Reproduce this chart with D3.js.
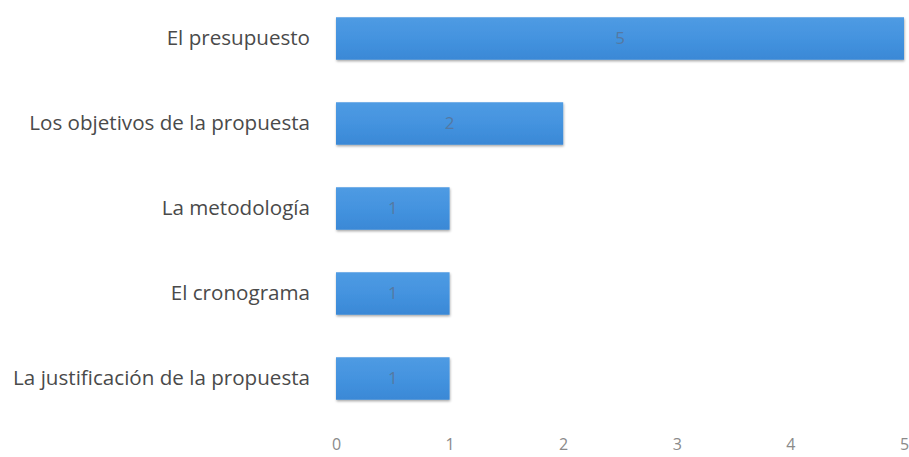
<!DOCTYPE html>
<html>
<head>
<meta charset="utf-8">
<script src="https://cdn.jsdelivr.net/npm/d3@7"></script>
<style>
  html, body { margin: 0; padding: 0; background: #ffffff; }
  svg { display: block; }
</style>
</head>
<body>
<svg id="chart" width="909" height="457"></svg>
<script>
// Categories (top to bottom) and their counts
const categories = [
  "El presupuesto",
  "Los objetivos de la propuesta",
  "La metodología ",
  "El cronograma",
  "La justificación de la propuesta"
];
const values = [5, 2, 1, 1, 1];
const xTicks = [0, 1, 2, 3, 4, 5];

const svg = d3.select("#chart");

const x = d3.scaleLinear().domain([0, 5]).range([336, 904]);
const y = d3.scaleBand()
  .domain(categories)
  .range([-4, 421])
  .paddingInner(0.5)
  .paddingOuter(0.25);

// soft shadow under each bar
const defs = svg.append("defs");
const f = defs.append("filter").attr("id", "shadow")
  .attr("x", "-5%").attr("y", "-20%").attr("width", "110%").attr("height", "150%");
f.append("feDropShadow").attr("dx", 0.5).attr("dy", 1.5)
  .attr("stdDeviation", 1.2).attr("flood-color", "#000").attr("flood-opacity", 0.35);

const grad = defs.append("linearGradient").attr("id", "barFill")
  .attr("x1", 0).attr("y1", 0).attr("x2", 0).attr("y2", 1);
grad.append("stop").attr("offset", "0%").attr("stop-color", "#4f9be3");
grad.append("stop").attr("offset", "50%").attr("stop-color", "#4493df");
grad.append("stop").attr("offset", "100%").attr("stop-color", "#3a88d6");

const data = categories.map((c, i) => ({ c, v: values[i] }));

svg.append("g").selectAll("rect")
  .data(data).join("rect")
  .attr("x", x(0))
  .attr("y", d => y(d.c))
  .attr("width", d => x(d.v) - x(0))
  .attr("height", y.bandwidth())
  .attr("fill", "url(#barFill)")
  .attr("filter", "url(#shadow)");

// value labels inside the bars
svg.append("g").selectAll("text")
  .data(data).join("text")
  .attr("x", d => (x(0) + x(d.v)) / 2)
  .attr("y", d => y(d.c) + y.bandwidth() / 2)
  .attr("dy", "0.35em")
  .attr("text-anchor", "middle")
  .attr("font-family", "'Open Sans', sans-serif")
  .attr("font-size", 17)
  .attr("fill", "#5479a3")
  .text(d => d.v);

// category axis
const yAxis = svg.append("g")
  .attr("transform", `translate(${x(0)},0)`)
  .call(d3.axisLeft(y).tickSize(0).tickPadding(26));
yAxis.select(".domain").remove();
yAxis.selectAll("text")
  .attr("font-family", "'Open Sans', sans-serif")
  .attr("font-size", 20.6)
  .attr("fill", "#4a4a4a");

// value axis
const xAxis = svg.append("g")
  .attr("transform", "translate(0,437)")
  .call(d3.axisBottom(x).tickValues(xTicks).tickFormat(d3.format("d")).tickSize(0).tickPadding(2));
xAxis.select(".domain").remove();
xAxis.selectAll("text")
  .attr("font-family", "'Open Sans', sans-serif")
  .attr("font-size", 16)
  .attr("fill", "#8a8a8a");
</script>
</body>
</html>
